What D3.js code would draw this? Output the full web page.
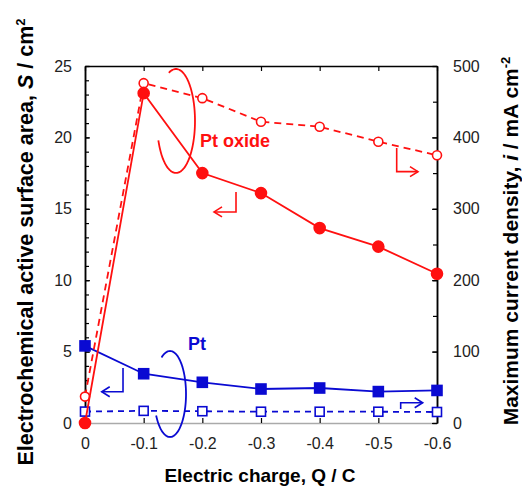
<!DOCTYPE html>
<html>
<head>
<meta charset="utf-8">
<script src="https://cdn.jsdelivr.net/npm/d3@7"></script>
<style>
  body { margin: 0; background: #fff; }
  svg { font-family: 'Liberation Sans', Arial, sans-serif; }
</style>
</head>
<body>
<div id="chart"></div>
<script>
// data
const charge = [0, -0.1, -0.2, -0.3, -0.4, -0.5, -0.6];
const ptOxideArea = [0, 23.1, 17.5, 16.1, 13.65, 12.35, 10.45];
const ptOxideCurrent = [37, 476, 455, 422, 415, 394, 375];
const ptArea = [5.4, 3.45, 2.85, 2.38, 2.45, 2.2, 2.28];
const ptCurrent = [16, 17, 16.5, 15.8, 15.8, 15.8, 15.4];

const xTicks = [0, -0.1, -0.2, -0.3, -0.4, -0.5, -0.6];
const leftTicks = [0, 5, 10, 15, 20, 25];
const rightTicks = [0, 100, 200, 300, 400, 500];

const RED = '#ff1010';
const BLUE = '#0a0ad2';

const render = () => {
  const width = 522;
  const height = 486;
  const plot = { left: 85, right: 437, top: 66, bottom: 423 };

  const svg = d3
    .select('#chart')
    .append('svg')
    .attr('width', width)
    .attr('height', height);

  const x = d3.scaleLinear().domain([0, -0.6]).range([plot.left, plot.right]);
  const yL = d3.scaleLinear().domain([0, 25]).range([plot.bottom, plot.top]);
  const yR = d3.scaleLinear().domain([0, 500]).range([plot.bottom, plot.top]);

  // axes
  const styleAxis = (g, color) => {
    g.selectAll('.domain').attr('stroke', color).attr('stroke-width', 1.5);
    g.selectAll('.tick line').attr('stroke', '#000').attr('stroke-width', 1.2);
    g.selectAll('.tick text')
      .attr('fill', '#222')
      .style('font-size', '16px');
  };

  // bottom
  svg
    .append('g')
    .attr('transform', `translate(0, ${plot.bottom})`)
    .call(
      d3.axisBottom(x).tickValues(xTicks).tickSize(-5).tickSizeOuter(0).tickPadding(15)
        .tickFormat((d) => (d === 0 ? '0' : d3.format('.1f')(d).replace('−', '-')))
    )
    .call((g) => styleAxis(g, '#aaa'));

  // top
  svg
    .append('g')
    .attr('transform', `translate(0, ${plot.top})`)
    .call(d3.axisTop(x).tickValues(xTicks).tickSize(-5).tickSizeOuter(0).tickFormat(''))
    .call((g) => styleAxis(g, '#000'));

  // left
  svg
    .append('g')
    .attr('transform', `translate(${plot.left}, 0)`)
    .call(d3.axisLeft(yL).tickValues(d3.range(0, 26, 1)).tickSize(-4).tickSizeOuter(0).tickFormat(''))
    .call((g) => styleAxis(g, '#000'));
  svg
    .append('g')
    .attr('transform', `translate(${plot.left}, 0)`)
    .call(d3.axisLeft(yL).tickValues(leftTicks).tickSize(-5).tickSizeOuter(0).tickPadding(13))
    .call((g) => styleAxis(g, '#000'));

  // right
  svg
    .append('g')
    .attr('transform', `translate(${plot.right}, 0)`)
    .call(d3.axisRight(yR).tickValues(d3.range(0, 501, 50)).tickSize(-4).tickSizeOuter(0).tickFormat(''))
    .call((g) => styleAxis(g, '#000'));
  svg
    .append('g')
    .attr('transform', `translate(${plot.right}, 0)`)
    .call(d3.axisRight(yR).tickValues(rightTicks).tickSize(-5).tickSizeOuter(0).tickPadding(16))
    .call((g) => styleAxis(g, '#000'));

  // axis titles
  svg
    .append('text')
    .attr('x', 260)
    .attr('y', 482)
    .attr('text-anchor', 'middle')
    .style('font-size', '19px')
    .style('font-weight', 'bold')
    .text('Electric charge, Q / C');

  const leftTitle = svg
    .append('text')
    .attr('transform', 'translate(33, 242) rotate(-90)')
    .attr('text-anchor', 'middle')
    .style('font-size', '21.5px')
    .style('font-weight', 'bold');
  leftTitle.append('tspan').text('Electrochemical active surface area, ');
  leftTitle.append('tspan').style('font-style', 'italic').text('S');
  leftTitle.append('tspan').text(' / cm');
  leftTitle.append('tspan').attr('dy', -8).style('font-size', '13px').text('2');

  const rightTitle = svg
    .append('text')
    .attr('transform', 'translate(518, 241) rotate(-90)')
    .attr('text-anchor', 'middle')
    .style('font-size', '21px')
    .style('font-weight', 'bold');
  rightTitle.append('tspan').text('Maximum current density, ');
  rightTitle.append('tspan').style('font-style', 'italic').text('i');
  rightTitle.append('tspan').text(' / mA cm');
  rightTitle.append('tspan').attr('dy', -8).style('font-size', '13px').text('-2');

  // series
  const series = [
    { values: ptCurrent, y: yR, color: BLUE, dash: '6,5', marker: 'square', fill: '#fff' },
    { values: ptArea, y: yL, color: BLUE, dash: null, marker: 'square', fill: BLUE },
    { values: ptOxideCurrent, y: yR, color: RED, dash: '7,5', marker: 'circle', fill: '#fff' },
    { values: ptOxideArea, y: yL, color: RED, dash: null, marker: 'circle', fill: RED },
  ];

  series.forEach((s) => {
    const pts = charge.map((c, i) => [x(c), s.y(s.values[i])]);
    svg
      .append('path')
      .attr('d', d3.line()(pts))
      .attr('fill', 'none')
      .attr('stroke', s.color)
      .attr('stroke-width', 1.8)
      .attr('stroke-dasharray', s.dash);

    const g = svg.append('g');
    if (s.marker === 'circle') {
      g.selectAll('circle')
        .data(pts)
        .enter()
        .append('circle')
        .attr('cx', (d) => d[0])
        .attr('cy', (d) => d[1])
        .attr('r', s.fill === '#fff' ? 4.5 : 5.5)
        .attr('fill', s.fill)
        .attr('stroke', s.color)
        .attr('stroke-width', 1.6);
    } else {
      const size = s.fill === '#fff' ? 9 : 10;
      g.selectAll('rect')
        .data(pts)
        .enter()
        .append('rect')
        .attr('x', (d) => d[0] - size / 2)
        .attr('y', (d) => d[1] - size / 2)
        .attr('width', size)
        .attr('height', size)
        .attr('fill', s.fill)
        .attr('stroke', s.color)
        .attr('stroke-width', 1.6);
    }
  });

  // annotations (data units)
  const ellipse = (cx, cy, rx, ry, t0, t1, color) => {
    const pts = d3.range(t0, t1 + 0.5, 2).map((t) => {
      const a = (t * Math.PI) / 180;
      return [x(cx) + rx * Math.cos(a), yL(cy) + ry * Math.sin(a)];
    });
    svg
      .append('path')
      .attr('d', d3.line().curve(d3.curveBasis)(pts))
      .attr('fill', 'none')
      .attr('stroke', color)
      .attr('stroke-width', 1.8);
  };
  ellipse(-0.1551, 21.15, 19, 52, -112, 158, RED);
  ellipse(-0.1449, 2.03, 16, 43, -122, 150, BLUE);

  const bentArrow = (x0, y0, y1, x1, color) => {
    const px0 = x(x0), py0 = yL(y0), py1 = yL(y1), px1 = x(x1);
    const dir = px1 > px0 ? 1 : -1;
    svg
      .append('path')
      .attr('d', `M${px0},${py0}V${py1}H${px1}`)
      .attr('fill', 'none')
      .attr('stroke', color)
      .attr('stroke-width', 1.6);
    svg
      .append('path')
      .attr('d', `M${px1 - dir * 8},${py1 - 5}L${px1},${py1}L${px1 - dir * 8},${py1 + 5}`)
      .attr('fill', 'none')
      .attr('stroke', color)
      .attr('stroke-width', 1.6);
  };
  bentArrow(-0.2574, 16.18, 14.78, -0.2199, RED);
  bentArrow(-0.5313, 19.26, 17.6, -0.5676, RED);
  bentArrow(-0.0648, 3.85, 2.19, -0.0285, BLUE);
  bentArrow(-0.5381, 0.98, 1.42, -0.5756, BLUE);

  svg
    .append('text')
    .attr('x', x(-0.196))
    .attr('y', yL(19.33))
    .attr('fill', RED)
    .style('font-size', '18px')
    .style('font-weight', 'bold')
    .text('Pt oxide');

  svg
    .append('text')
    .attr('x', x(-0.1756))
    .attr('y', yL(5.11))
    .attr('fill', BLUE)
    .style('font-size', '18px')
    .style('font-weight', 'bold')
    .text('Pt');
};

render();
</script>
</body>
</html>
